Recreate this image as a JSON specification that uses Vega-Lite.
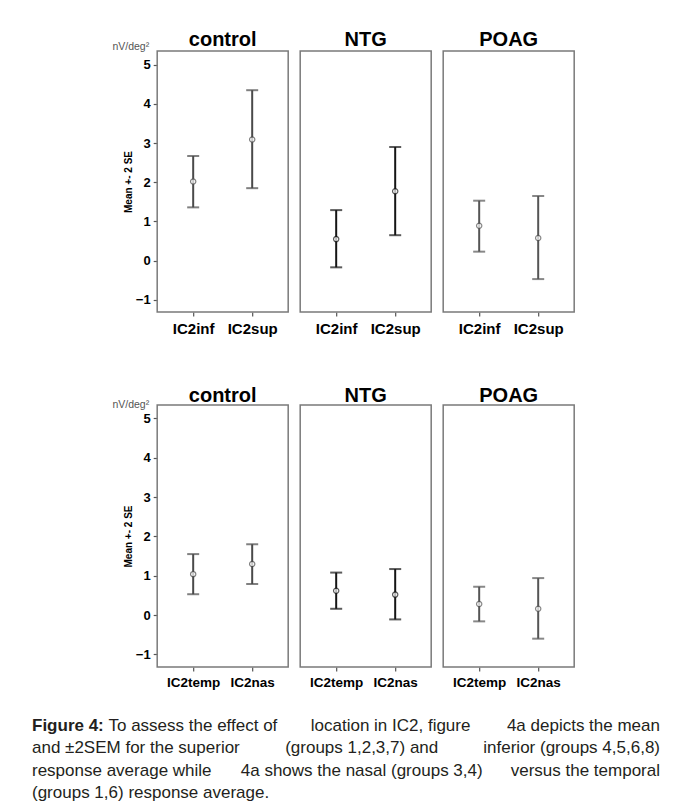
{
  "$schema": "https://vega.github.io/schema/vega-lite/v6.json",
  "background": "white",
  "padding": {"left": 32, "top": 30, "right": 5, "bottom": 5},
  "datasets": {
    "ic2": [
      {"fig": "a", "group": "control", "loc": "IC2inf", "mean": 2.02, "lo": 1.36, "hi": 2.67},
      {"fig": "a", "group": "control", "loc": "IC2sup", "mean": 3.09, "lo": 1.85, "hi": 4.35},
      {"fig": "a", "group": "NTG", "loc": "IC2inf", "mean": 0.55, "lo": -0.17, "hi": 1.29},
      {"fig": "a", "group": "NTG", "loc": "IC2sup", "mean": 1.77, "lo": 0.65, "hi": 2.9},
      {"fig": "a", "group": "POAG", "loc": "IC2inf", "mean": 0.89, "lo": 0.23, "hi": 1.53},
      {"fig": "a", "group": "POAG", "loc": "IC2sup", "mean": 0.58, "lo": -0.47, "hi": 1.65},
      {"fig": "b", "group": "control", "loc": "IC2temp", "mean": 1.04, "lo": 0.53, "hi": 1.55},
      {"fig": "b", "group": "control", "loc": "IC2nas", "mean": 1.3, "lo": 0.79, "hi": 1.8},
      {"fig": "b", "group": "NTG", "loc": "IC2temp", "mean": 0.62, "lo": 0.16, "hi": 1.08},
      {"fig": "b", "group": "NTG", "loc": "IC2nas", "mean": 0.52, "lo": -0.11, "hi": 1.17},
      {"fig": "b", "group": "POAG", "loc": "IC2temp", "mean": 0.28, "lo": -0.16, "hi": 0.72},
      {"fig": "b", "group": "POAG", "loc": "IC2nas", "mean": 0.16, "lo": -0.6, "hi": 0.94}
    ],
    "caption": [
      {"line": 1, "part": "head", "text": "Figure 4:"},
      {"line": 1, "part": "left", "text": "To assess the effect of"},
      {"line": 1, "part": "mid", "text": "location in IC2, figure"},
      {"line": 1, "part": "right", "text": "4a depicts the mean"},
      {"line": 2, "part": "left", "text": "and ±2SEM for the superior"},
      {"line": 2, "part": "mid", "text": "(groups 1,2,3,7) and"},
      {"line": 2, "part": "right", "text": "inferior (groups 4,5,6,8)"},
      {"line": 3, "part": "left", "text": "response average while"},
      {"line": 3, "part": "mid", "text": "4a shows the nasal (groups 3,4)"},
      {"line": 3, "part": "right", "text": "versus the temporal"},
      {"line": 4, "part": "left", "text": "(groups 1,6) response average."}
    ]
  },
  "center": true,
  "spacing": 28,
  "vconcat": [
    {
      "center": true,
      "spacing": 49,
      "vconcat": [
        {
          "data": {"name": "ic2"},
          "transform": [{"filter": "datum.fig == 'a'"}],
          "facet": {
            "column": {
              "field": "group", "type": "nominal", "sort": ["control", "NTG", "POAG"],
              "header": {"title": null, "labelFontSize": 20, "labelFontWeight": "bold", "labelFont": "Liberation Sans", "labelColor": "#000", "labelBaseline": "alphabetic", "labelPadding": -15}
            }
          },
          "spacing": 12,
          "bounds": "flush",
          "spec": {
            "width": 131,
            "height": 261,
            "encoding": {
              "x": {"field": "loc", "type": "nominal", "sort": ["IC2inf", "IC2sup"], "scale": {"type": "point", "padding": 0.61},
                    "axis": {"title": null, "labelAngle": 0, "labelFontSize": 15, "labelPadding": 5}}
            },
            "layer": [
              {"mark": {"type": "rule", "strokeWidth": 2},
               "encoding": {
                 "y": {"field": "lo", "type": "quantitative", "title": "Mean +- 2 SE", "scale": {"domain": [-1.31, 5.35], "nice": false, "zero": false},
                       "axis": {"values": [-1, 0, 1, 2, 3, 4, 5], "title": "Mean +- 2 SE"}},
                 "y2": {"field": "hi"},
                 "color": {"field": "group", "type": "nominal", "scale": {"domain": ["control", "NTG", "POAG"], "range": ["#4a4a4a", "#151515", "#555555"]}, "legend": null}
               }},
              {"mark": {"type": "tick", "size": 12, "thickness": 2},
               "encoding": {"y": {"field": "hi", "type": "quantitative", "title": "Mean +- 2 SE"},
                            "color": {"field": "group", "type": "nominal", "legend": null}}},
              {"mark": {"type": "tick", "size": 12, "thickness": 2},
               "encoding": {"y": {"field": "lo", "type": "quantitative", "title": "Mean +- 2 SE"},
                            "color": {"field": "group", "type": "nominal", "legend": null}}},
              {"mark": {"type": "point", "filled": false, "size": 28, "strokeWidth": 1.2, "fill": "white"},
               "encoding": {"y": {"field": "mean", "type": "quantitative", "title": "Mean +- 2 SE"},
                            "color": {"field": "group", "type": "nominal", "legend": null}}},
              {"transform": [{"filter": "datum.group == 'control' && datum.loc == 'IC2inf'"}],
               "mark": {"type": "text", "text": "nV/deg²", "align": "right", "baseline": "middle", "dx": -44, "fontSize": 10.5, "color": "#555", "clip": false},
               "encoding": {"y": {"datum": 5.44, "type": "quantitative", "title": "Mean +- 2 SE"}}}
            ]
          }
        },
        {
          "data": {"name": "ic2"},
          "transform": [{"filter": "datum.fig == 'b'"}],
          "facet": {
            "column": {
              "field": "group", "type": "nominal", "sort": ["control", "NTG", "POAG"],
              "header": {"title": null, "labelFontSize": 20, "labelFontWeight": "bold", "labelFont": "Liberation Sans", "labelColor": "#000", "labelBaseline": "alphabetic", "labelPadding": -16.5}
            }
          },
          "spacing": 12,
          "bounds": "flush",
          "spec": {
            "width": 131,
            "height": 262,
            "encoding": {
              "x": {"field": "loc", "type": "nominal", "sort": ["IC2temp", "IC2nas"], "scale": {"type": "point", "padding": 0.61},
                    "axis": {"title": null, "labelAngle": 0, "labelFontSize": 13.5, "labelPadding": 4}}
            },
            "layer": [
              {"mark": {"type": "rule", "strokeWidth": 2},
               "encoding": {
                 "y": {"field": "lo", "type": "quantitative", "title": "Mean +- 2 SE", "scale": {"domain": [-1.32, 5.34], "nice": false, "zero": false},
                       "axis": {"values": [-1, 0, 1, 2, 3, 4, 5], "title": "Mean +- 2 SE"}},
                 "y2": {"field": "hi"},
                 "color": {"field": "group", "type": "nominal", "scale": {"domain": ["control", "NTG", "POAG"], "range": ["#4a4a4a", "#151515", "#555555"]}, "legend": null}
               }},
              {"mark": {"type": "tick", "size": 12, "thickness": 2},
               "encoding": {"y": {"field": "hi", "type": "quantitative", "title": "Mean +- 2 SE"},
                            "color": {"field": "group", "type": "nominal", "legend": null}}},
              {"mark": {"type": "tick", "size": 12, "thickness": 2},
               "encoding": {"y": {"field": "lo", "type": "quantitative", "title": "Mean +- 2 SE"},
                            "color": {"field": "group", "type": "nominal", "legend": null}}},
              {"mark": {"type": "point", "filled": false, "size": 28, "strokeWidth": 1.2, "fill": "white"},
               "encoding": {"y": {"field": "mean", "type": "quantitative", "title": "Mean +- 2 SE"},
                            "color": {"field": "group", "type": "nominal", "legend": null}}},
              {"transform": [{"filter": "datum.group == 'control' && datum.loc == 'IC2temp'"}],
               "mark": {"type": "text", "text": "nV/deg²", "align": "right", "baseline": "middle", "dx": -44, "fontSize": 10.5, "color": "#555", "clip": false},
               "encoding": {"y": {"datum": 5.34, "type": "quantitative", "title": "Mean +- 2 SE"}}}
            ]
          }
        }
      ]
    },
    {
      "data": {"name": "caption"},
      "width": 668,
      "height": 89,
      "view": {"stroke": null},
      "encoding": {
        "y": {"field": "line", "type": "ordinal", "scale": {"type": "point", "padding": 0.5}, "axis": null},
        "text": {"field": "text"}
      },
      "layer": [
        {"transform": [{"filter": "datum.part == 'head'"}],
         "mark": {"type": "text", "align": "left", "baseline": "alphabetic", "fontSize": 17, "fontWeight": "bold", "color": "#231f20"},
         "encoding": {"x": {"datum": 0, "type": "quantitative", "scale": {"domain": [0, 1.0637], "nice": false, "zero": false}, "axis": null}}},
        {"transform": [{"filter": "datum.part == 'left' && datum.line == 1"}],
         "mark": {"type": "text", "align": "left", "baseline": "alphabetic", "fontSize": 17, "color": "#231f20"},
         "encoding": {"x": {"datum": 0.1218, "type": "quantitative"}}},
        {"transform": [{"filter": "datum.part == 'left' && datum.line != 1"}],
         "mark": {"type": "text", "align": "left", "baseline": "alphabetic", "fontSize": 17, "color": "#231f20"},
         "encoding": {"x": {"datum": 0, "type": "quantitative"}}},
        {"transform": [{"filter": "datum.part == 'right'"}],
         "mark": {"type": "text", "align": "right", "baseline": "alphabetic", "fontSize": 17, "color": "#231f20"},
         "encoding": {"x": {"datum": 1, "type": "quantitative"}}},
        {"transform": [{"filter": "datum.part == 'mid' && datum.line == 1"}],
         "mark": {"type": "text", "align": "center", "baseline": "alphabetic", "fontSize": 17, "color": "#231f20"},
         "encoding": {"x": {"datum": 0.571, "type": "quantitative"}}},
        {"transform": [{"filter": "datum.part == 'mid' && datum.line != 1"}],
         "mark": {"type": "text", "align": "center", "baseline": "alphabetic", "fontSize": 17, "color": "#231f20"},
         "encoding": {"x": {"datum": 0.525, "type": "quantitative"}}}
      ]
    }
  ],
  "config": {
    "font": "Liberation Sans",
    "view": {"stroke": "#7a7a7a", "strokeWidth": 1.5},
    "axis": {"grid": false, "domain": false, "tickColor": "#555", "tickSize": 4, "tickWidth": 1.2, "labelColor": "#000", "labelFontWeight": "bold", "titleColor": "#000"},
    "axisY": {"labelFontSize": 13, "labelPadding": 3, "titleFontSize": 10, "titleFontWeight": "bold", "titlePadding": 2}
  }
}
